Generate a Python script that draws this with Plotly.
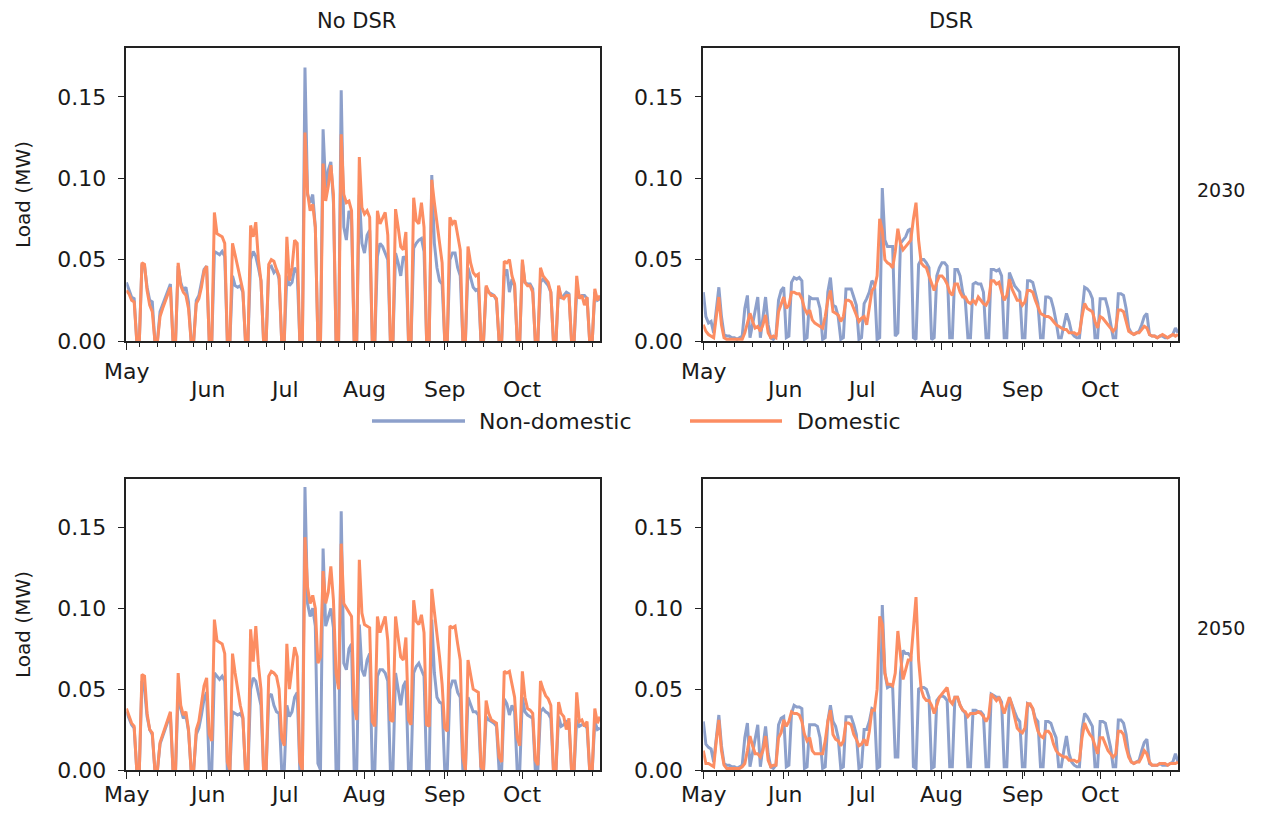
import pandas as pd
import plotly.graph_objects as go

# ---------------- data ----------------
dates = pd.date_range("2029-05-01", "2029-10-31", freq="D")
month_ticks = pd.to_datetime(["2029-05-01", "2029-06-01", "2029-07-01",
                              "2029-08-01", "2029-09-01", "2029-10-01"])
month_labels = ["May", "Jun", "Jul", "Aug", "Sep", "Oct"]
week_ticks = pd.date_range("2029-05-06", "2029-10-31", freq="7D")
y_ticks = [0.0, 0.05, 0.10, 0.15]
y_tick_labels = ["0.00", "0.05", "0.10", "0.15"]

# 2030, No DSR
nodsr_2030_nondom = [
    0.036, 0.031, 0.027, 0.026, 0, 0,
    0.047, 0.046, 0.033, 0.025, 0.024, 0, 0,
    0.018, 0.022, 0.026, 0.031, 0.035, 0, 0,
    0.046, 0.036, 0.031, 0.033, 0.024, 0, 0,
    0.025, 0.028, 0.035, 0.044, 0.046, 0, 0,
    0.055, 0.054, 0.053, 0.055, 0.052, 0, 0,
    0.040, 0.034, 0.033, 0.034, 0.030, 0, 0,
    0.050, 0.055, 0.052, 0.045, 0.037, 0, 0,
    0.045, 0.046, 0.042, 0.044, 0.038, 0, 0,
    0.040, 0.034, 0.036, 0.045, 0.042, 0, 0,
    0.168, 0.090, 0.085, 0.090, 0.070, 0, 0,
    0.130, 0.094, 0.105, 0.110, 0.085, 0, 0,
    0.154, 0.070, 0.062, 0.080, 0.075, 0, 0,
    0.090, 0.060, 0.054, 0.065, 0.068, 0, 0,
    0.052, 0.060, 0.058, 0.054, 0.050, 0, 0,
    0.054, 0.048, 0.040, 0.052, 0.050, 0, 0,
    0.057, 0.060, 0.062, 0.063, 0.055, 0, 0,
    0.102, 0.060, 0.045, 0.037, 0.035, 0, 0,
    0.050, 0.054, 0.054, 0.045, 0.040, 0, 0,
    0.045, 0.038, 0.033, 0.031, 0.032, 0, 0,
    0.033, 0.030, 0.029, 0.028, 0.025, 0, 0,
    0.040, 0.044, 0.030, 0.038, 0.034, 0, 0,
    0.048, 0.036, 0.035, 0.035, 0.032, 0, 0,
    0.036, 0.038, 0.036, 0.034, 0.030, 0, 0,
    0.033, 0.026, 0.028, 0.030, 0.029, 0, 0,
    0.030, 0.027, 0.028, 0.028, 0.026, 0, 0,
    0.030, 0.025, 0.026,
]
nodsr_2030_dom = [
    0.031, 0.029, 0.025, 0.024, 0, 0,
    0.048, 0.047, 0.031, 0.022, 0.018, 0, 0,
    0.015, 0.020, 0.024, 0.029, 0.033, 0, 0,
    0.048, 0.034, 0.030, 0.028, 0.020, 0, 0,
    0.023, 0.026, 0.033, 0.043, 0.046, 0, 0,
    0.079, 0.066, 0.065, 0.064, 0.060, 0, 0,
    0.060, 0.053, 0.045, 0.038, 0.031, 0, 0,
    0.071, 0.064, 0.073, 0.050, 0.037, 0, 0,
    0.047, 0.050, 0.049, 0.044, 0.040, 0, 0,
    0.064, 0.037, 0.045, 0.062, 0.060, 0, 0,
    0.128, 0.091, 0.080, 0.084, 0.070, 0, 0,
    0.109, 0.086, 0.095, 0.108, 0.090, 0, 0,
    0.127, 0.090, 0.085, 0.086, 0.080, 0, 0,
    0.113, 0.082, 0.078, 0.080, 0.076, 0, 0,
    0.080, 0.072, 0.076, 0.079, 0.065, 0, 0,
    0.081, 0.070, 0.058, 0.056, 0.067, 0, 0,
    0.088, 0.074, 0.072, 0.085, 0.070, 0, 0,
    0.099, 0.085, 0.072, 0.060, 0.048, 0, 0,
    0.076, 0.072, 0.074, 0.065, 0.056, 0, 0,
    0.058, 0.048, 0.042, 0.040, 0.041, 0, 0,
    0.034, 0.030, 0.028, 0.028, 0.026, 0, 0,
    0.049, 0.048, 0.050, 0.040, 0.035, 0, 0,
    0.050, 0.036, 0.034, 0.034, 0.030, 0, 0,
    0.045, 0.040, 0.038, 0.036, 0.030, 0, 0,
    0.034, 0.027, 0.026, 0.028, 0.028, 0, 0,
    0.040, 0.026, 0.028, 0.022, 0.027, 0, 0,
    0.032, 0.025, 0.028,
]

# 2030, DSR
dsr_2030_nondom = [
    0.030, 0.015, 0.011, 0.012, 0.005, 0.020,
    0.033, 0.015, 0.004, 0.003, 0.003, 0.002, 0.002,
    0.001, 0.002, 0.003, 0.020, 0.028, 0.002, 0.010,
    0.020, 0.027, 0.002, 0.015, 0.027, 0.010, 0.002,
    0.001, 0.003, 0.025, 0.031, 0.033, 0.002, 0.003,
    0.036, 0.039, 0.038, 0.039, 0.037, 0.001, 0.002,
    0.027, 0.026, 0.026, 0.026, 0.020, 0.001, 0.002,
    0.030, 0.039, 0.022, 0.021, 0.015, 0.001, 0.002,
    0.032, 0.032, 0.032, 0.027, 0.022, 0.001, 0.002,
    0.023, 0.026, 0.030, 0.037, 0.035, 0.001, 0.002,
    0.094, 0.062, 0.058, 0.058, 0.058, 0.003, 0.005,
    0.060, 0.062, 0.064, 0.068, 0.069, 0.002, 0.001,
    0.047, 0.050, 0.050, 0.048, 0.045, 0.001, 0.002,
    0.040, 0.045, 0.048, 0.048, 0.046, 0.002, 0.002,
    0.044, 0.044, 0.040, 0.030, 0.025, 0.002, 0.002,
    0.035, 0.036, 0.035, 0.035, 0.030, 0.002, 0.002,
    0.044, 0.044, 0.043, 0.044, 0.040, 0.002, 0.002,
    0.042, 0.038, 0.034, 0.032, 0.030, 0.002, 0.002,
    0.037, 0.037, 0.036, 0.030, 0.023, 0.002, 0.002,
    0.027, 0.027, 0.026, 0.020, 0.012, 0.002, 0.002,
    0.010, 0.017, 0.012, 0.005, 0.003, 0.002, 0.002,
    0.020, 0.033, 0.032, 0.030, 0.026, 0.002, 0.002,
    0.026, 0.026, 0.026, 0.020, 0.012, 0.002, 0.002,
    0.029, 0.029, 0.028, 0.020, 0.008, 0.005, 0.004,
    0.005, 0.006, 0.010, 0.015, 0.017, 0.004, 0.003,
    0.003, 0.002, 0.003, 0.003, 0.002, 0.002, 0.003,
    0.004, 0.008, 0.005,
]
dsr_2030_dom = [
    0.010, 0.006, 0.004, 0.003, 0.002, 0.015,
    0.027, 0.010, 0.002, 0.001, 0.001, 0.001, 0.001,
    0.001, 0.001, 0.001, 0.005, 0.012, 0.017, 0.012,
    0.008, 0.009, 0.006, 0.010, 0.016, 0.005, 0.002,
    0.003, 0.002, 0.018, 0.023, 0.027, 0.020, 0.022,
    0.030, 0.030, 0.029, 0.029, 0.026, 0.020, 0.017,
    0.019, 0.013, 0.011, 0.010, 0.009, 0.008, 0.015,
    0.025, 0.031, 0.018, 0.017, 0.016, 0.012, 0.015,
    0.025, 0.025, 0.024, 0.020, 0.015, 0.012, 0.014,
    0.015, 0.010, 0.020, 0.031, 0.033, 0.040, 0.075,
    0.068, 0.050, 0.048, 0.047, 0.045, 0.055, 0.069,
    0.060, 0.056, 0.058, 0.060, 0.062, 0.075, 0.085,
    0.062, 0.048, 0.046, 0.045, 0.040, 0.035, 0.031,
    0.036, 0.040, 0.040, 0.038, 0.035, 0.030, 0.028,
    0.035, 0.035, 0.030, 0.027, 0.027, 0.024, 0.023,
    0.025, 0.023, 0.027, 0.025, 0.023, 0.022, 0.025,
    0.037, 0.037, 0.035, 0.036, 0.030, 0.025, 0.028,
    0.038, 0.032, 0.028, 0.025, 0.025, 0.022, 0.024,
    0.031, 0.031, 0.030, 0.025, 0.021, 0.017, 0.016,
    0.015, 0.015, 0.014, 0.012, 0.010, 0.009, 0.008,
    0.007, 0.007, 0.005, 0.005, 0.005, 0.004, 0.005,
    0.015, 0.023, 0.020, 0.019, 0.018, 0.012, 0.008,
    0.015, 0.014, 0.012, 0.010, 0.008, 0.006, 0.008,
    0.019, 0.019, 0.018, 0.012, 0.006, 0.005, 0.004,
    0.005, 0.005, 0.007, 0.009, 0.008, 0.004, 0.003,
    0.003, 0.002, 0.003, 0.004, 0.003, 0.002, 0.003,
    0.004, 0.003, 0.004,
]

# 2050, No DSR
nodsr_2050_nondom = [
    0.036, 0.032, 0.028, 0.026, 0, 0,
    0.055, 0.050, 0.033, 0.025, 0.022, 0, 0,
    0.016, 0.021, 0.026, 0.030, 0.033, 0, 0,
    0.048, 0.038, 0.032, 0.034, 0.024, 0, 0,
    0.022, 0.026, 0.034, 0.044, 0.048, 0, 0,
    0.060, 0.058, 0.056, 0.058, 0.055, 0, 0,
    0.036, 0.035, 0.034, 0.035, 0.032, 0, 0,
    0.050, 0.057, 0.055, 0.047, 0.040, 0, 0,
    0.045, 0.047, 0.040, 0.036, 0.035, 0, 0,
    0.040, 0.033, 0.036, 0.045, 0.048, 0, 0,
    0.175, 0.103, 0.095, 0.100, 0.089, 0.004, 0,
    0.137, 0.089, 0.095, 0.100, 0.088, 0, 0,
    0.160, 0.066, 0.062, 0.075, 0.078, 0, 0,
    0.090, 0.062, 0.058, 0.068, 0.072, 0, 0,
    0.058, 0.062, 0.062, 0.060, 0.055, 0, 0,
    0.060, 0.050, 0.040, 0.052, 0.055, 0, 0,
    0.060, 0.064, 0.066, 0.062, 0.058, 0, 0,
    0.093, 0.060, 0.045, 0.042, 0.041, 0, 0,
    0.050, 0.055, 0.055, 0.048, 0.045, 0, 0,
    0.045, 0.040, 0.036, 0.036, 0.034, 0, 0,
    0.033, 0.031, 0.030, 0.029, 0.027, 0, 0,
    0.044, 0.041, 0.034, 0.040, 0.036, 0, 0,
    0.045, 0.036, 0.034, 0.033, 0.032, 0, 0,
    0.036, 0.038, 0.036, 0.035, 0.032, 0, 0,
    0.033, 0.027, 0.028, 0.030, 0.029, 0, 0,
    0.031, 0.027, 0.028, 0.028, 0.026, 0, 0,
    0.030, 0.025, 0.026,
]
nodsr_2050_dom = [
    0.038, 0.033, 0.029, 0.027, 0, 0,
    0.059, 0.058, 0.035, 0.025, 0.023, 0, 0,
    0.017, 0.022, 0.027, 0.032, 0.036, 0, 0,
    0.060, 0.040, 0.034, 0.036, 0.025, 0, 0,
    0.025, 0.030, 0.040, 0.052, 0.057, 0.022, 0.018,
    0.093, 0.080, 0.079, 0.078, 0.072, 0.005, 0,
    0.072, 0.060, 0.050, 0.040, 0.033, 0, 0,
    0.087, 0.067, 0.089, 0.065, 0.050, 0, 0,
    0.058, 0.061, 0.060, 0.058, 0.050, 0.020, 0.015,
    0.078, 0.050, 0.062, 0.076, 0.070, 0.005, 0,
    0.144, 0.113, 0.103, 0.108, 0.100, 0.066, 0.070,
    0.123, 0.103, 0.110, 0.126, 0.105, 0.060, 0.050,
    0.140, 0.103, 0.100, 0.097, 0.095, 0.040, 0.031,
    0.130, 0.097, 0.090, 0.089, 0.088, 0.030, 0.027,
    0.095, 0.085, 0.090, 0.095, 0.080, 0.031, 0.030,
    0.095, 0.082, 0.070, 0.068, 0.082, 0.031, 0.028,
    0.105, 0.092, 0.090, 0.096, 0.085, 0.028, 0.027,
    0.112, 0.098, 0.085, 0.070, 0.053, 0.026, 0.024,
    0.089, 0.088, 0.089, 0.078, 0.068, 0.008, 0,
    0.068, 0.058, 0.050, 0.049, 0.048, 0.002, 0,
    0.043, 0.035, 0.031, 0.030, 0.029, 0.008, 0.005,
    0.061, 0.060, 0.061, 0.052, 0.045, 0.020, 0.015,
    0.061, 0.045, 0.038, 0.037, 0.035, 0.006, 0.003,
    0.055, 0.050, 0.046, 0.044, 0.040, 0, 0,
    0.042, 0.035, 0.033, 0.025, 0.032, 0, 0,
    0.048, 0.030, 0.031, 0.027, 0.030, 0, 0,
    0.038, 0.029, 0.033,
]

# 2050, DSR
dsr_2050_nondom = [
    0.030, 0.016, 0.014, 0.013, 0.005, 0.020,
    0.034, 0.015, 0.004, 0.003, 0.003, 0.002, 0.002,
    0.001, 0.002, 0.003, 0.020, 0.029, 0.002, 0.010,
    0.020, 0.028, 0.002, 0.015, 0.027, 0.010, 0.002,
    0.001, 0.003, 0.028, 0.032, 0.033, 0.002, 0.003,
    0.035, 0.040, 0.039, 0.039, 0.038, 0.001, 0.002,
    0.028, 0.028, 0.028, 0.027, 0.020, 0.001, 0.002,
    0.030, 0.040, 0.030, 0.027, 0.020, 0.001, 0.002,
    0.033, 0.033, 0.033, 0.028, 0.022, 0.001, 0.002,
    0.025, 0.025, 0.030, 0.038, 0.037, 0.001, 0.002,
    0.102, 0.060, 0.051, 0.052, 0.051, 0.008, 0.008,
    0.060, 0.074, 0.072, 0.072, 0.070, 0.002, 0.001,
    0.050, 0.051, 0.051, 0.050, 0.045, 0.001, 0.002,
    0.043, 0.045, 0.046, 0.045, 0.043, 0.002, 0.002,
    0.045, 0.045, 0.040, 0.037, 0.035, 0.002, 0.002,
    0.037, 0.037, 0.036, 0.036, 0.034, 0.002, 0.002,
    0.047, 0.046, 0.045, 0.045, 0.042, 0.002, 0.002,
    0.045, 0.040, 0.036, 0.032, 0.030, 0.002, 0.002,
    0.041, 0.040, 0.038, 0.032, 0.030, 0.002, 0.002,
    0.030, 0.030, 0.029, 0.024, 0.020, 0.002, 0.002,
    0.012, 0.021, 0.010, 0.005, 0.003, 0.002, 0.002,
    0.025, 0.035, 0.033, 0.030, 0.027, 0.002, 0.002,
    0.030, 0.030, 0.029, 0.022, 0.014, 0.002, 0.002,
    0.031, 0.031, 0.029, 0.022, 0.010, 0.005, 0.004,
    0.005, 0.006, 0.012, 0.017, 0.019, 0.004, 0.003,
    0.003, 0.003, 0.004, 0.003, 0.003, 0.003, 0.004,
    0.005, 0.010, 0.005,
]
dsr_2050_dom = [
    0.012, 0.004, 0.004, 0.003, 0.002, 0.018,
    0.031, 0.012, 0.003, 0.001, 0.001, 0.001, 0.001,
    0.001, 0.001, 0.002, 0.004, 0.012, 0.021, 0.015,
    0.010, 0.010, 0.008, 0.012, 0.021, 0.006, 0.002,
    0.003, 0.003, 0.020, 0.023, 0.031, 0.027, 0.030,
    0.036, 0.035, 0.035, 0.034, 0.030, 0.022, 0.018,
    0.020, 0.012, 0.010, 0.010, 0.010, 0.010, 0.018,
    0.030, 0.037, 0.022, 0.019, 0.018, 0.015, 0.018,
    0.029, 0.029, 0.028, 0.022, 0.019, 0.015, 0.016,
    0.019, 0.015, 0.024, 0.037, 0.037, 0.050, 0.095,
    0.090, 0.060, 0.053, 0.053, 0.052, 0.060, 0.086,
    0.070, 0.056, 0.062, 0.068, 0.068, 0.085, 0.107,
    0.068, 0.050, 0.045, 0.043, 0.043, 0.040, 0.035,
    0.040, 0.045, 0.047, 0.049, 0.051, 0.043, 0.041,
    0.045, 0.045, 0.040, 0.037, 0.036, 0.033, 0.035,
    0.035, 0.035, 0.036, 0.035, 0.033, 0.030, 0.033,
    0.047, 0.045, 0.043, 0.045, 0.040, 0.035, 0.040,
    0.045, 0.040, 0.032, 0.026, 0.024, 0.023, 0.026,
    0.041, 0.041, 0.038, 0.030, 0.024, 0.021, 0.020,
    0.024, 0.024, 0.022, 0.016, 0.012, 0.010, 0.009,
    0.008, 0.008, 0.006, 0.006, 0.006, 0.005, 0.006,
    0.020, 0.029, 0.025, 0.022, 0.020, 0.015, 0.010,
    0.020, 0.020, 0.016, 0.012, 0.010, 0.008, 0.010,
    0.024, 0.024, 0.022, 0.014, 0.008, 0.005, 0.004,
    0.005, 0.005, 0.008, 0.012, 0.010, 0.005, 0.003,
    0.003, 0.003, 0.004, 0.004, 0.004, 0.003, 0.004,
    0.004, 0.004, 0.005,
]

col_titles = ["No DSR", "DSR"]
row_titles = ["2030", "2050"]
series_names = ["Non-domestic", "Domestic"]
colors = ["#8da0cb", "#fc8d62"]

panels = [
    ("", nodsr_2030_nondom, nodsr_2030_dom),
    ("2", dsr_2030_nondom, dsr_2030_dom),
    ("3", nodsr_2050_nondom, nodsr_2050_dom),
    ("4", dsr_2050_nondom, dsr_2050_dom),
]

# ---------------- figure ----------------
# the page body has an 8px margin, so the figure is 16px smaller than the
# window and every screen coordinate is shifted by 8px
OFF = 8
W, H = 1261 - 2 * OFF, 816 - 2 * OFF
FONT = "DejaVu Sans, Liberation Sans, Arial, sans-serif"
FS = 22
TXT = "#1a1a1a"


def px(x):
    return (x - OFF) / W


def py(y):
    return 1 - (y - OFF) / H


fig = go.Figure()
for suffix, nd, dm in panels:
    for name, vals, col in zip(series_names, [nd, dm], colors):
        fig.add_trace(go.Scatter(
            x=dates, y=vals, mode="lines", name=name,
            line=dict(color=col, width=3),
            xaxis="x" + suffix, yaxis="y" + suffix, showlegend=False,
        ))

x_doms = [[px(126.4), px(600)], [px(703.3), px(1178)]]
y_doms = [[py(341), py(48)], [py(770), py(479)]]

layout = dict(
    width=W, height=H,
    margin=dict(l=0, r=0, t=0, b=0, autoexpand=False),
    paper_bgcolor="white", plot_bgcolor="white",
    font=dict(family=FONT, size=FS, color=TXT),
    showlegend=False,
)

for i, suffix in enumerate(["", "2", "3", "4"]):
    r, c = divmod(i, 2)
    layout["xaxis" + suffix] = dict(
        domain=x_doms[c], anchor="y" + suffix, type="date",
        range=[dates[0], dates[-1]],
        tickmode="array", tickvals=month_ticks, showticklabels=False,
        ticks="outside", ticklen=7, tickwidth=1.4, tickcolor="#222",
        minor=dict(tickmode="array", tickvals=week_ticks, ticks="outside",
                   ticklen=4, tickwidth=1.2, tickcolor="#222", showgrid=False),
        showgrid=False, zeroline=False,
        showline=True, linecolor="#222", linewidth=1.6, mirror=True,
    )
    layout["yaxis" + suffix] = dict(
        domain=y_doms[r], anchor="x" + suffix, range=[0, 0.18],
        tickmode="array", tickvals=y_ticks, ticktext=y_tick_labels,
        ticks="outside", ticklen=7, tickwidth=1.4, tickcolor="#222",
        ticklabelstandoff=7,
        tickfont=dict(family=FONT, size=FS, color=TXT),
        showgrid=False, zeroline=False,
        showline=True, linecolor="#222", linewidth=1.6, mirror=True,
    )

fig.update_layout(**layout)

ann = []
# month tick labels
for i, suffix in enumerate(["", "2", "3", "4"]):
    r = i // 2
    for m, lab in zip(month_ticks, month_labels):
        if r == 0:
            ann.append(dict(x=m, xref="x" + suffix,
                            y=py(371) if lab == "May" else py(389), yref="paper",
                            text=lab, showarrow=False, xanchor="center",
                            yanchor="middle",
                            font=dict(family=FONT, size=FS, color=TXT)))
        else:
            ann.append(dict(x=m, xref="x" + suffix, y=0, yref="paper",
                            text=lab, showarrow=False, xanchor="center",
                            yanchor="bottom", borderpad=0,
                            font=dict(family=FONT, size=FS, color=TXT)))
# column titles (top of the figure)
for t, xc in zip(col_titles, [356, 951]):
    ann.append(dict(x=px(xc), y=1, xref="paper", yref="paper", text=t,
                    showarrow=False, xanchor="center", yanchor="top", borderpad=0,
                    font=dict(family=FONT, size=21, color=TXT)))
# row titles
for t, yc in zip(row_titles, [190, 628]):
    ann.append(dict(x=px(1221), y=py(yc), xref="paper", yref="paper", text=t,
                    showarrow=False, xanchor="center", yanchor="middle",
                    font=dict(family=FONT, size=19, color=TXT)))
# y-axis titles
for yc in [195, 625]:
    ann.append(dict(x=px(23), y=py(yc), xref="paper", yref="paper", text="Load (MW)",
                    textangle=-90, showarrow=False, xanchor="center", yanchor="middle",
                    font=dict(family=FONT, size=20, color=TXT)))
# legend
shapes = []
for name, col, x0, x1, xt in [(series_names[0], colors[0], 372, 465, 477),
                              (series_names[1], colors[1], 690, 782, 795)]:
    shapes.append(dict(type="line", xref="paper", yref="paper",
                       x0=px(x0), x1=px(x1), y0=py(421), y1=py(421),
                       line=dict(color=col, width=3.5)))
    ann.append(dict(x=px(xt), y=py(421), xref="paper", yref="paper", text=name,
                    showarrow=False, xanchor="left", yanchor="middle",
                    font=dict(family=FONT, size=FS, color=TXT)))

fig.update_layout(annotations=ann, shapes=shapes)

for s in [nodsr_2030_nondom, nodsr_2030_dom, dsr_2030_nondom, dsr_2030_dom,
          nodsr_2050_nondom, nodsr_2050_dom, dsr_2050_nondom, dsr_2050_dom]:
    assert len(s) == len(dates), len(s)

fig.write_html("out.html")
